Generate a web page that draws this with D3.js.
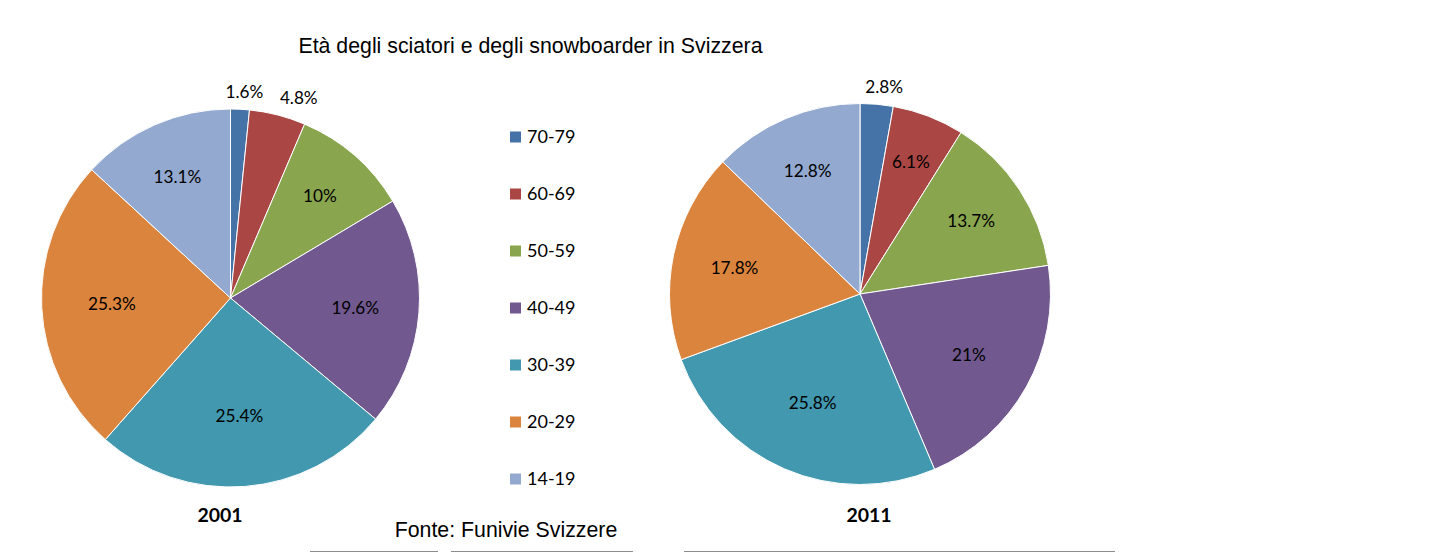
<!DOCTYPE html>
<html>
<head>
<meta charset="utf-8">
<script src="https://cdn.jsdelivr.net/npm/d3@7"></script>
<style>
  html, body { margin: 0; padding: 0; background: #ffffff; }
  svg { display: block; }
</style>
</head>
<body>
<svg id="chart" width="1455" height="553"></svg>
<script>
// Age groups, listed clockwise from 12 o'clock
const ageGroups = ["70-79", "60-69", "50-59", "40-49", "30-39", "20-29", "14-19"];
// Share of skiers and snowboarders per age group (%)
const values2001 = [1.6, 4.8, 10, 19.6, 25.4, 25.3, 13.1];
const values2011 = [2.8, 6.1, 13.7, 21, 25.8, 17.8, 12.8];
const years = ["2001", "2011"];
const groupColors = ["#4572A7", "#AA4643", "#89A54E", "#71588F", "#4198AF", "#DB843D", "#93A9CF"];

const title = "Età degli sciatori e degli snowboarder in Svizzera";
const source = "Fonte: Funivie Svizzere";

const svg = d3.select("#chart");
const labelFont = "Lato, 'Open Sans', sans-serif";
const headFont = "'Liberation Sans', Arial, sans-serif";

const color = d3.scaleOrdinal().domain(ageGroups).range(groupColors);

svg.append("text")
  .attr("x", 530.5).attr("y", 53)
  .attr("text-anchor", "middle")
  .attr("font-family", headFont)
  .attr("font-size", 21.3)
  .attr("fill", "#000")
  .text(title);

const pies = [
  { year: years[0], values: values2001, cx: 230.5, cy: 298, r: 189, yearX: 220 },
  { year: years[1], values: values2011, cx: 860, cy: 294, r: 190.5, yearX: 869 }
];

const pie = d3.pie().sort(null).value(d => d.value);

pies.forEach(p => {
  const data = ageGroups.map((g, i) => ({ group: g, value: p.values[i] }));
  const arcs = pie(data);
  const arc = d3.arc().innerRadius(0).outerRadius(p.r);
  const g = svg.append("g").attr("transform", `translate(${p.cx},${p.cy})`);

  g.selectAll("path")
    .data(arcs)
    .join("path")
    .attr("d", arc)
    .attr("fill", d => color(d.data.group))
    .attr("stroke", "#ffffff")
    .attr("stroke-width", 1);

  arcs.forEach(a => {
    const mid = (a.startAngle + a.endAngle) / 2;
    const share = (a.endAngle - a.startAngle) / (2 * Math.PI);
    const label = d3.format("")(a.data.value) + "%";
    let x, y;
    if (share < 0.05) {
      // small slices: label sits just outside the rim
      const ro = p.r + 9;
      const ax = Math.sin(mid) * ro, ay = -Math.cos(mid) * ro;
      const w = 38, h = 16;
      const clamp = v => Math.max(-1, Math.min(1, v));
      x = ax + clamp(Math.sin(mid) * 4) * w / 2;
      y = ay - clamp(Math.cos(mid) * 4) * h / 2;
    } else {
      const rf = 0.78 - 0.6 * share;
      x = Math.sin(mid) * p.r * rf;
      y = -Math.cos(mid) * p.r * rf;
    }
    g.append("text")
      .attr("x", x).attr("y", y)
      .attr("dy", "0.35em")
      .attr("text-anchor", "middle")
      .attr("font-family", labelFont)
      .attr("font-size", 17.2)
      .attr("fill", "#000")
      .text(label);
  });

  svg.append("text")
    .attr("x", p.yearX).attr("y", 522)
    .attr("text-anchor", "middle")
    .attr("font-family", labelFont)
    .attr("font-weight", "bold")
    .attr("font-size", 19.5)
    .attr("fill", "#000")
    .text(p.year);
});

// Legend
const legend = svg.append("g");
const legendY = d3.scalePoint().domain(ageGroups).range([137, 479]);
ageGroups.forEach(gname => {
  const y = legendY(gname);
  legend.append("rect")
    .attr("x", 510).attr("y", y - 5.5)
    .attr("width", 11).attr("height", 11)
    .attr("fill", color(gname));
  legend.append("text")
    .attr("x", 527).attr("y", y)
    .attr("dy", "0.35em")
    .attr("font-family", labelFont)
    .attr("font-size", 18)
    .attr("fill", "#000")
    .text(gname);
});

svg.append("text")
  .attr("x", 506).attr("y", 536.5)
  .attr("text-anchor", "middle")
  .attr("font-family", headFont)
  .attr("font-size", 21.3)
  .attr("fill", "#000")
  .text(source);

// Rules along the bottom edge
const rules = [[310, 438], [451, 633], [684, 1115]];
svg.selectAll("line.rule")
  .data(rules)
  .join("line")
  .attr("class", "rule")
  .attr("x1", d => d[0]).attr("x2", d => d[1])
  .attr("y1", 551.5).attr("y2", 551.5)
  .attr("stroke", "#8c8c8c")
  .attr("stroke-width", 1);
</script>
</body>
</html>
